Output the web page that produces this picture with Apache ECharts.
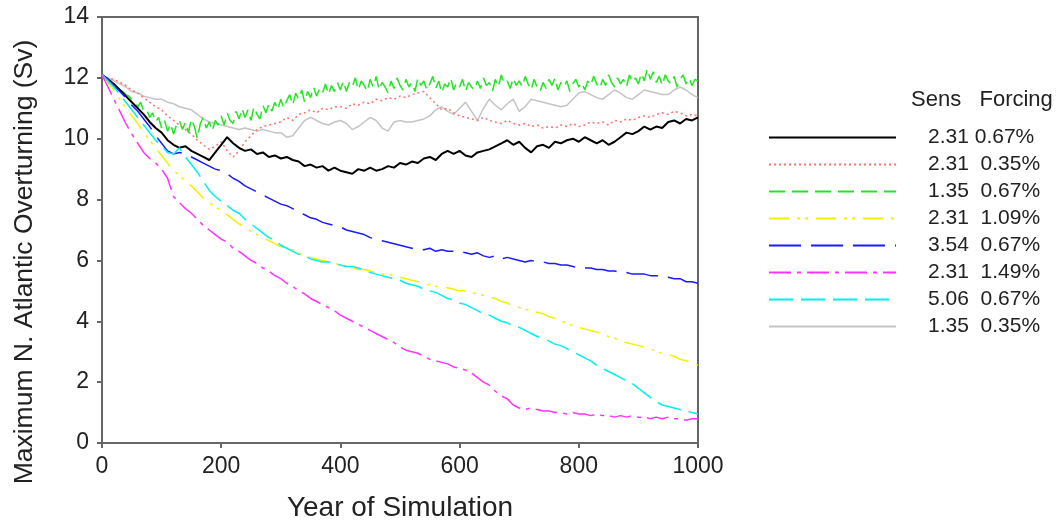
<!DOCTYPE html>
<html><head><meta charset="utf-8">
<script src="https://cdn.jsdelivr.net/npm/echarts@6/dist/echarts.min.js"></script>
<style>html,body{margin:0;padding:0;background:#fff}#c{width:1059px;height:523px}</style>
</head><body><div id="c"></div>
<script>
const years = [0,10,20,30,40,50,60,70,80,90,100,110,120,130,140,150,160,170,180,190,200,210,220,230,240,250,260,270,280,290,300,310,320,330,340,350,360,370,380,390,400,410,420,430,440,450,460,470,480,490,500,510,520,530,540,550,560,570,580,590,600,610,620,630,640,650,660,670,680,690,700,710,720,730,740,750,760,770,780,790,800,810,820,830,840,850,860,870,880,890,900,910,920,930,940,950,960,970,980,990,1000];
const years5 = [0,5,10,15,20,25,30,35,40,45,50,55,60,65,70,75,80,85,90,95,100,105,110,115,120,125,130,135,140,145,150,155,160,165,170,175,180,185,190,195,200,205,210,215,220,225,230,235,240,245,250,255,260,265,270,275,280,285,290,295,300,305,310,315,320,325,330,335,340,345,350,355,360,365,370,375,380,385,390,395,400,405,410,415,420,425,430,435,440,445,450,455,460,465,470,475,480,485,490,495,500,505,510,515,520,525,530,535,540,545,550,555,560,565,570,575,580,585,590,595,600,605,610,615,620,625,630,635,640,645,650,655,660,665,670,675,680,685,690,695,700,705,710,715,720,725,730,735,740,745,750,755,760,765,770,775,780,785,790,795,800,805,810,815,820,825,830,835,840,845,850,855,860,865,870,875,880,885,890,895,900,905,910,915,920,925,930,935,940,945,950,955,960,965,970,975,980,985,990,995,1000];

const seriesNames = ['2.31 0.67%','2.31 0.35%','1.35 0.67%','2.31 1.09%','3.54 0.67%','2.31 1.49%','5.06 0.67%','1.35 0.35%'];

const black = [12.1,11.95,11.8,11.6,11.4,11.2,11.0,10.8,10.55,10.35,10.2,9.95,9.8,9.7,9.75,9.6,9.5,9.4,9.3,9.55,9.8,10.05,9.85,9.7,9.6,9.65,9.5,9.55,9.4,9.45,9.35,9.4,9.3,9.25,9.1,9.15,9.05,9.1,8.95,9.05,8.95,8.9,8.85,9.0,8.95,9.05,8.95,9.0,9.1,9.05,9.2,9.15,9.25,9.2,9.35,9.4,9.3,9.5,9.6,9.5,9.6,9.45,9.4,9.55,9.6,9.65,9.75,9.85,9.95,9.8,9.9,9.7,9.55,9.75,9.8,9.7,9.9,9.85,9.95,10.0,9.9,10.05,9.95,9.85,9.95,9.8,9.9,10.05,10.2,10.15,10.25,10.4,10.3,10.4,10.35,10.55,10.6,10.5,10.65,10.6,10.7];
const red = [12.1,12.0,11.95,11.85,11.75,11.6,11.5,11.35,11.2,11.05,10.95,10.75,10.6,10.45,10.3,10.15,9.95,9.8,9.65,9.75,9.9,9.6,9.4,9.6,9.9,10.1,10.3,10.4,10.45,10.5,10.55,10.7,10.6,10.8,10.85,10.95,10.85,11.0,10.95,11.05,11.05,11.0,11.15,11.1,11.2,11.15,11.3,11.25,11.35,11.3,11.4,11.35,11.45,11.5,11.55,11.35,11.15,10.95,11.0,10.85,10.75,10.7,10.65,10.6,10.7,10.6,10.55,10.5,10.6,10.5,10.45,10.5,10.4,10.45,10.35,10.4,10.35,10.45,10.4,10.5,10.4,10.45,10.55,10.5,10.55,10.45,10.6,10.55,10.65,10.6,10.7,10.75,10.7,10.8,10.85,10.8,10.9,10.85,10.75,10.8,10.75];
const green = [12.1,12.0,11.95,11.85,11.8,11.7,11.6,11.55,11.45,11.4,11.3,11.2,
  11.05,11.2,10.9,10.95,10.7,10.85,10.55,10.7,
  10.35,10.6,10.25,10.5,10.15,10.45,10.6,10.3,10.55,10.2,10.65,10.4,10.0,10.5,10.7,10.35,10.55,10.25,10.6,10.45,
  10.75,10.45,10.85,10.6,10.5,10.9,10.65,11.0,10.7,10.95,10.6,11.05,10.8,10.65,11.1,10.85,11.15,10.9,11.2,10.95,
  11.3,11.0,11.25,11.45,11.1,11.5,11.3,11.6,11.2,11.55,11.35,11.7,11.4,11.65,11.5,11.8,11.45,11.75,11.55,11.85,
  11.6,11.9,11.55,11.85,11.7,12.0,11.6,11.9,11.75,11.55,11.95,11.7,12.05,11.6,11.85,11.7,11.5,11.9,11.65,12.0,
  11.75,11.6,11.95,11.7,11.85,11.55,12.0,11.75,11.9,11.6,11.8,12.05,11.65,11.9,11.5,11.8,11.7,12.0,11.6,11.85,
  11.7,11.95,11.55,11.85,11.7,11.6,11.9,11.65,12.0,11.75,11.85,11.55,11.95,11.7,12.1,11.8,11.9,11.65,12.0,11.75,
  11.9,11.7,12.05,11.8,11.6,11.95,11.7,11.55,11.85,11.65,11.95,11.75,12.0,11.6,11.85,11.7,11.9,11.55,11.8,11.95,
  11.7,11.85,11.6,11.9,11.75,12.05,11.8,11.65,11.95,11.75,12.1,11.85,11.7,12.0,11.8,11.95,11.7,12.1,11.85,12.0,
  11.8,12.15,11.9,12.3,11.95,12.2,11.85,12.05,11.75,12.1,11.9,11.8,12.05,11.7,11.95,12.1,11.8,12.0,11.75,11.95,11.9];
const yellow = [12.1,11.85,11.6,11.3,11.0,10.75,10.5,10.2,9.95,9.7,9.45,9.2,8.95,8.8,8.6,8.45,8.25,8.05,7.9,7.75,7.65,7.5,7.35,7.2,7.1,6.95,6.85,6.75,6.65,6.55,6.45,6.4,6.35,6.25,6.15,6.1,6.05,6.0,5.95,5.9,5.85,5.8,5.75,5.7,5.7,5.65,5.6,5.55,5.55,5.5,5.45,5.4,5.35,5.3,5.25,5.2,5.15,5.1,5.1,5.05,5.0,5.0,4.95,4.9,4.85,4.8,4.75,4.65,4.6,4.5,4.45,4.4,4.35,4.3,4.25,4.15,4.1,4.0,3.95,3.85,3.8,3.75,3.7,3.65,3.6,3.5,3.45,3.35,3.3,3.25,3.2,3.15,3.1,3.0,2.95,2.9,2.85,2.75,2.7,2.65,2.55];
const blue = [12.1,11.95,11.75,11.55,11.35,11.1,10.9,10.65,10.4,10.1,9.85,9.6,9.5,9.55,9.5,9.4,9.3,9.2,9.1,9.0,8.95,8.85,8.7,8.6,8.45,8.35,8.25,8.15,8.05,7.95,7.85,7.8,7.7,7.6,7.5,7.4,7.35,7.25,7.2,7.15,7.1,7.0,6.95,6.9,6.85,6.75,6.7,6.65,6.6,6.55,6.5,6.45,6.4,6.4,6.35,6.4,6.3,6.35,6.3,6.3,6.3,6.25,6.2,6.25,6.15,6.1,6.15,6.05,6.1,6.05,6.0,5.95,6.0,5.95,5.95,5.9,5.9,5.85,5.85,5.8,5.75,5.75,5.75,5.7,5.7,5.65,5.65,5.6,5.6,5.55,5.55,5.55,5.5,5.5,5.45,5.45,5.4,5.4,5.3,5.3,5.25];
const magenta = [12.1,11.7,11.3,10.9,10.5,10.15,9.85,9.55,9.35,9.2,9.0,8.7,8.1,7.9,7.7,7.55,7.35,7.15,7.0,6.85,6.7,6.6,6.4,6.3,6.15,6.0,5.9,5.75,5.65,5.5,5.4,5.25,5.15,5.0,4.9,4.75,4.65,4.55,4.45,4.35,4.2,4.1,4.0,3.9,3.8,3.7,3.6,3.5,3.4,3.3,3.15,3.05,3.0,2.95,2.85,2.75,2.7,2.65,2.6,2.5,2.45,2.4,2.3,2.15,2.0,1.9,1.7,1.55,1.45,1.25,1.15,1.1,1.15,1.1,1.05,1.05,1.0,1.0,0.95,1.0,0.95,0.95,0.9,0.95,0.9,0.9,0.85,0.9,0.85,0.9,0.85,0.85,0.8,0.85,0.8,0.85,0.8,0.8,0.75,0.8,0.8];
const cyan = [12.1,11.9,11.7,11.45,11.2,10.95,10.7,10.45,10.2,9.95,9.75,9.55,9.5,9.7,9.4,9.15,8.9,8.6,8.3,8.1,7.95,7.8,7.65,7.55,7.35,7.2,7.05,6.9,6.75,6.65,6.5,6.4,6.3,6.2,6.15,6.05,6.0,5.95,5.95,5.9,5.85,5.8,5.8,5.75,5.7,5.6,5.55,5.5,5.45,5.4,5.35,5.25,5.2,5.15,5.05,5.0,4.95,4.85,4.75,4.7,4.6,4.55,4.45,4.35,4.25,4.2,4.1,4.0,3.95,3.85,3.8,3.7,3.6,3.5,3.45,3.35,3.25,3.2,3.1,3.0,2.9,2.8,2.7,2.55,2.45,2.35,2.25,2.15,2.05,1.95,1.8,1.65,1.5,1.35,1.25,1.2,1.15,1.1,1.05,1.0,0.95];
const gray = [12.1,12.0,11.9,11.8,11.7,11.55,11.5,11.4,11.35,11.3,11.3,11.2,11.15,11.05,11.0,10.95,10.8,10.65,10.55,10.5,10.45,10.4,10.35,10.3,10.35,10.3,10.25,10.3,10.25,10.2,10.2,10.05,10.1,10.35,10.6,10.7,10.6,10.5,10.45,10.55,10.6,10.5,10.3,10.4,10.55,10.7,10.6,10.35,10.25,10.55,10.6,10.55,10.55,10.6,10.65,10.75,10.95,11.05,10.9,10.8,11.0,11.2,10.9,10.6,11.0,11.3,11.1,10.95,11.15,11.3,10.9,11.05,11.3,11.25,11.2,11.15,11.1,11.05,11.1,11.3,11.5,11.55,11.45,11.35,11.3,11.45,11.6,11.5,11.35,11.3,11.45,11.6,11.55,11.5,11.45,11.45,11.6,11.7,11.6,11.45,11.35];

const xTicks = [0,200,400,600,800,1000];
const yTicks = [0,2,4,6,8,10,12,14];
const legendHeader = 'Sens   Forcing';
const yTitle = 'Maximum N. Atlantic Overturning (Sv)';
const xTitle = 'Year of Simulation';

const values = [black, red, green, yellow, blue, magenta, cyan, gray];
const xs = [years, years, years5, years, years, years, years, years];
const colors = ['#000000','#ff7070','#22e622','#f2f200','#1a1aff','#ff33ff','#00f0f0','#c4c4c4'];
const dashes = ['solid',[2,3],[16,7],[20,8,3,5,3,8],[32,10],[22,6,4,6],[24,8],'solid'];
const widths = [2,1.5,1.5,1.5,1.5,1.5,1.5,1.5];
const drawOrder = [7,1,2,0,4,3,6,5];

const FONT = 'Liberation Sans, Arial, sans-serif';
const chart = echarts.init(document.getElementById('c'), null, {renderer:'canvas'});

const series = drawOrder.map(i => ({
  name: seriesNames[i], type: 'line', symbol: 'none', showSymbol: false, animation: false,
  z: 2 + drawOrder.indexOf(i),
  data: xs[i].map((y, k) => [y, values[i][k]]),
  lineStyle: {color: colors[i], width: widths[i], type: dashes[i]},
  itemStyle: {color: colors[i]}
}));

chart.setOption({
  animation: false,
  grid: {left: 102, right: 361, top: 17, bottom: 80, show: true, borderColor: '#666', borderWidth: 2, backgroundColor: 'transparent'},
  xAxis: {
    type: 'value', min: 0, max: 1000, interval: 200,
    axisLine: {show: true, lineStyle: {color: '#666', width: 2}},
    axisTick: {show: true, inside: false, length: 5, lineStyle: {color: '#666', width: 2}},
    axisLabel: {color: '#222', fontFamily: FONT, fontSize: 23, margin: 12,
      formatter: v => xTicks.includes(v) ? String(v) : ''},
    splitLine: {show: false}
  },
  yAxis: {
    type: 'value', min: 0, max: 14, interval: 2,
    axisLine: {show: true, lineStyle: {color: '#666', width: 2}},
    axisTick: {show: true, inside: false, length: 5, lineStyle: {color: '#666', width: 2}},
    axisLabel: {color: '#222', fontFamily: FONT, fontSize: 23, margin: 13,
      formatter: v => yTicks.includes(v) ? String(v) : ''},
    splitLine: {show: false}
  },
  legend: {
    data: seriesNames, orient: 'vertical', left: 768, top: 127,
    itemWidth: 127, itemHeight: 14, itemGap: 6, padding: 0,
    selectedMode: false,
    itemStyle: {opacity: 0},
    textStyle: {fontFamily: FONT, fontSize: 21, color: '#222', lineHeight: 20, padding: [0,0,0,27]},
    formatter: name => {
      const idx = seriesNames.indexOf(name);
      return idx === 0 ? name : name.replace(' ', '  ');
    }
  },
  graphic: [
    {type: 'text', left: 911, top: 89,
     style: {text: legendHeader, font: '22px ' + FONT, fill: '#222'}},
    {type: 'text', x: 25, y: 262, rotation: Math.PI / 2,
     style: {text: yTitle, font: '26.5px ' + FONT, fill: '#222', align: 'center', verticalAlign: 'middle'}},
    {type: 'text', x: 400, y: 508,
     style: {text: xTitle, font: '28px ' + FONT, fill: '#222', align: 'center', verticalAlign: 'middle'}}
  ],
  series: series
});
</script></body></html>
